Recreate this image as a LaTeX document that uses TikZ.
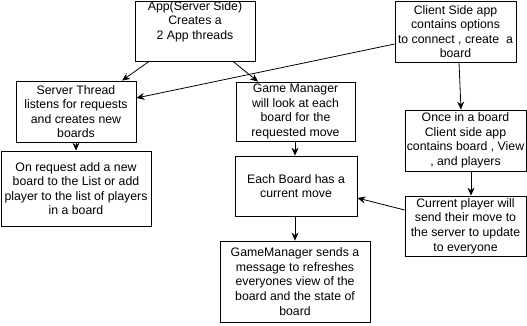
\documentclass[tikz,border=0pt]{standalone}
\usepackage{fontspec}
\setmainfont{Liberation Sans}
\usetikzlibrary{arrows.meta}
\begin{document}
\begin{tikzpicture}[x=1pt,y=-1pt,
  box/.style={draw=black,line width=0.8pt,fill=white,inner sep=0pt,align=center,
    font=\fontsize{12.3}{14.6}\selectfont},
  txt/.style={inner sep=0pt,align=center,font=\fontsize{12.3}{14.6}\selectfont},
  flow/.style={draw=black,line width=0.8pt,-{Stealth[length=8pt,width=7pt]}}]
\useasboundingbox (0,0) rectangle (527,325);
% server side
\node[box,minimum width=120pt,minimum height=60pt] (A) at (195,31) {};
\node[txt] (At) at (195,21.5) {App(Server Side)\\Creates a\\2 App threads};
\node[box,minimum width=120pt,minimum height=61pt] (S) at (76,111.5)
  {Server Thread\\listens for requests\\and creates new\\boards};
\node[box,minimum width=119pt,minimum height=59pt] (G) at (295.5,111.5)
  {Game Manager\\will look at each\\board for the\\requested move};
\node[box,minimum width=150pt,minimum height=75pt] (R) at (76,188.5)
  {On request add a new\\board to the List or add\\player to the list of players\\in a board};
\node[box,minimum width=122pt,minimum height=60pt] (E) at (296,186)
  {Each Board has a\\current move};
\node[box,minimum width=150pt,minimum height=81pt] (M) at (295,281.5)
  {GameManager sends a\\message to refreshes\\everyones view of the\\board and the state of\\board};
% client side
\node[box,minimum width=121pt,minimum height=61pt] (C) at (455.5,31.5)
  {Client Side app\\contains options\\to connect , create~ a\\board};
\node[box,minimum width=121pt,minimum height=61pt] (O) at (465.5,140.5)
  {Once in a board\\Client side app\\contains board , View\\, and players};
\node[box,minimum width=121pt,minimum height=60pt] (P) at (465.5,226)
  {Current player will\\send their move to\\the server to update\\to everyone};
% connectors
\draw[flow] (A.south -| 149,0) -- (S.north -| 122,0);
\draw[flow] (A.south -| 233,0) -- (G.north -| 258,0);
\draw[flow] (C.west |- 0,44) -- (S.east |- 0,98);
\draw[flow] (C.south -| 459,0) -- (O.north -| 461,0);
\draw[flow] (S.south) -- (R.north);
\draw[flow] (G.south -| 295,0) -- (E.north -| 295,0);
\draw[flow] (E.south -| 295,0) -- (M.north -| 295,0);
\draw[flow] (O.south -| 471,0) -- (P.north -| 471,0);
\draw[flow] (P.west |- 0,210) -- (E.east |- 0,198);
\end{tikzpicture}
\end{document}
